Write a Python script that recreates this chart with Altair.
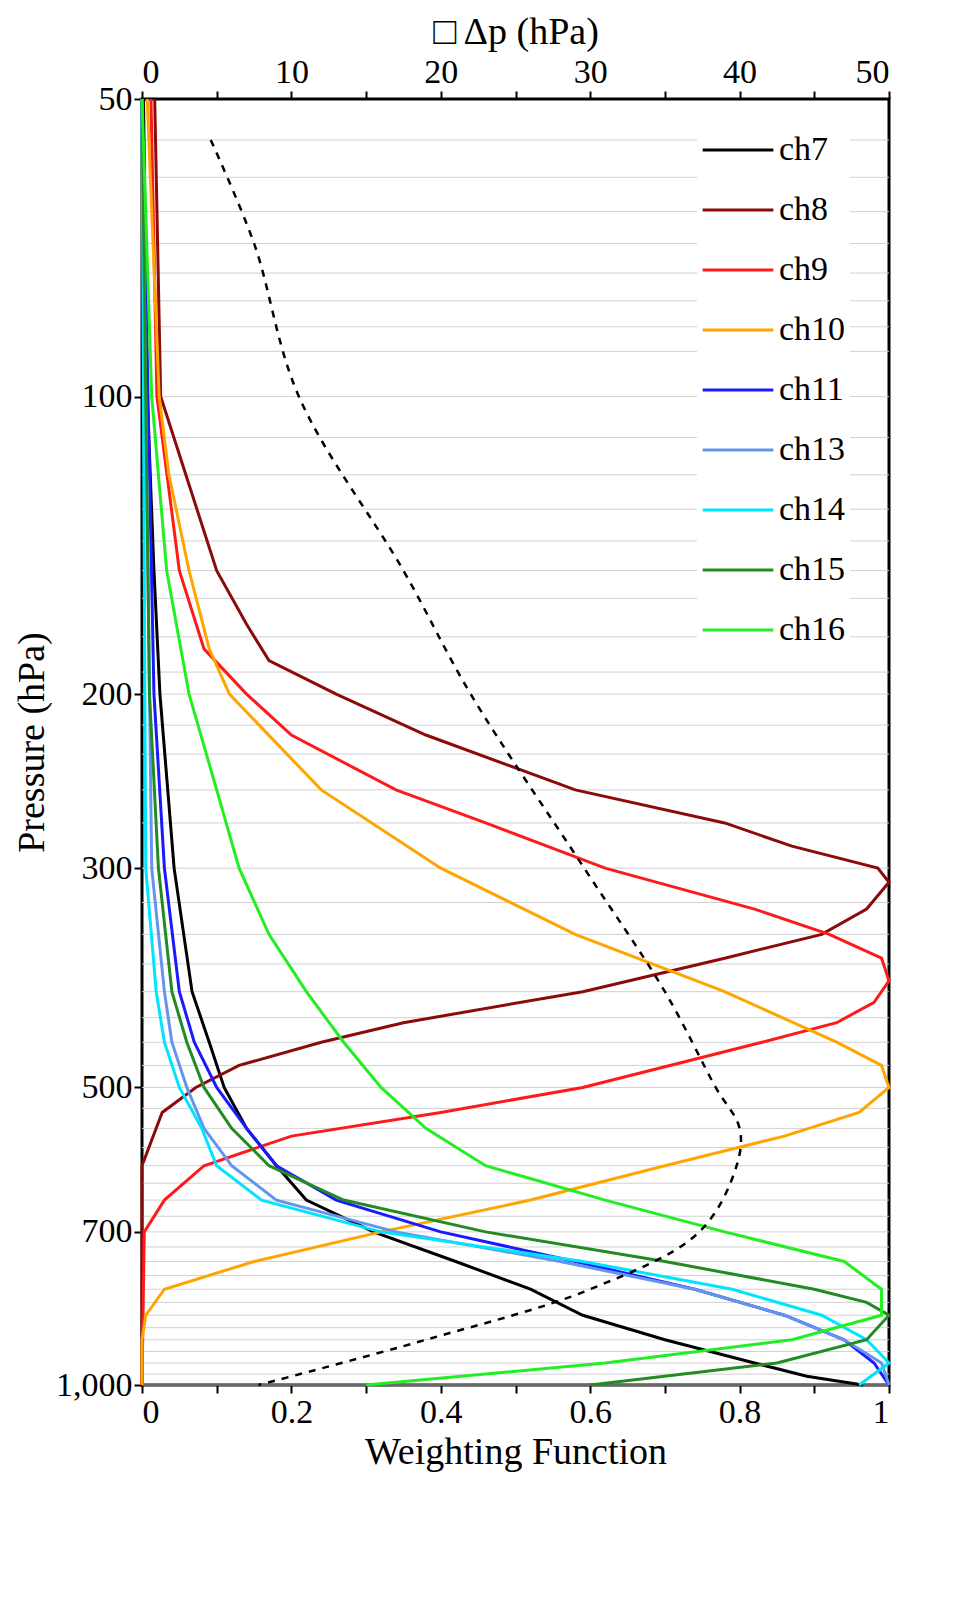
import altair as alt
import pandas as pd

channels = ["ch7","ch8","ch9","ch10","ch11","ch13","ch14","ch15","ch16"]
colors = ["#000000","#8b0a0a","#ff1a1a","#ffa500","#1a1aff","#6495ed","#00e5ff","#228b22","#22ee22"]

wf = {
 "ch7":  ([50,100,150,200,300,400,450,500,550,600,650,700,750,800,850,900,950,980,1000],
          [0.002,0.007,0.016,0.024,0.043,0.067,0.09,0.11,0.14,0.18,0.22,0.31,0.42,0.52,0.59,0.70,0.82,0.89,0.965]),
 "ch8":  ([50,100,150,170,185,200,220,250,270,285,300,310,330,350,370,400,430,450,475,500,530,600,1000],
          [0.017,0.025,0.10,0.14,0.17,0.26,0.38,0.58,0.78,0.87,0.985,1.0,0.97,0.91,0.78,0.59,0.35,0.24,0.13,0.072,0.027,0.0,0.0]),
 "ch9":  ([50,100,150,180,200,220,250,270,300,330,350,370,390,410,430,450,500,530,560,600,650,700,1000],
          [0.012,0.02,0.05,0.083,0.14,0.2,0.34,0.46,0.62,0.82,0.92,0.99,1.0,0.98,0.93,0.83,0.59,0.40,0.2,0.083,0.03,0.003,0.0]),
 "ch10": ([50,100,120,150,180,200,250,300,350,400,450,475,500,530,560,600,650,700,750,800,850,900,1000],
          [0.007,0.023,0.036,0.063,0.09,0.117,0.24,0.40,0.58,0.78,0.93,0.99,1.0,0.96,0.86,0.70,0.52,0.32,0.15,0.03,0.005,0.0,0.0]),
 "ch11": ([50,200,300,400,450,500,550,600,650,700,750,800,850,900,950,1000],
          [0.0,0.016,0.03,0.05,0.07,0.1,0.14,0.18,0.26,0.40,0.58,0.74,0.86,0.94,0.98,1.0]),
 "ch13": ([50,300,400,450,500,550,600,650,700,750,800,850,900,950,1000],
          [0.0,0.013,0.03,0.04,0.06,0.083,0.12,0.18,0.34,0.56,0.74,0.86,0.94,0.99,1.0]),
 "ch14": ([50,300,400,450,500,550,600,650,700,750,800,850,900,950,1000],
          [0.0,0.005,0.019,0.03,0.05,0.08,0.1,0.16,0.32,0.59,0.79,0.91,0.97,1.0,0.96]),
 "ch15": ([50,200,300,400,450,500,550,600,650,700,750,800,825,850,900,950,1000],
          [0.0,0.01,0.022,0.04,0.06,0.083,0.12,0.17,0.27,0.46,0.70,0.90,0.97,1.0,0.97,0.85,0.6]),
 "ch16": ([50,100,150,200,250,300,350,400,450,500,550,600,650,700,750,800,850,900,950,1000],
          [0.0,0.013,0.033,0.063,0.1,0.13,0.17,0.22,0.27,0.32,0.38,0.46,0.62,0.78,0.94,0.99,0.99,0.87,0.62,0.30]),
}

dash_p = [55,70,100,150,200,300,400,500,550,600,700,800,900,1000]
dash_dp = [4.6,7.5,10.5,17.5,22,29.6,35,38.4,40,39.8,37.3,30,19,7.8]

grid_levels = [55,60,65,70,75,80,85,90,100,110,120,130,140,150,160,175,190,200,215,230,250,270,300,
               325,350,375,400,425,450,475,500,525,550,575,600,625,650,675,700,725,750,775,800,
               825,850,875,900,925,950,975,1000]

rows = []
for ch in channels:
    ps, vs = wf[ch]
    for p, v in zip(ps, vs):
        rows.append({"ch": ch, "p": p, "w": v})
df = pd.DataFrame(rows)
dfd = pd.DataFrame({"p": dash_p, "dp": dash_dp})
dfg = pd.DataFrame({"p": grid_levels})

font = "Liberation Serif"
yscale = alt.Scale(type="log", domain=[50, 1000], reverse=True, nice=False)
yaxis = alt.Axis(title="Pressure (hPa)", values=[50,100,200,300,500,700,1000], grid=False,
                 tickSize=8, tickWidth=2, labelFontSize=34, titleFontSize=38,
                 labelFont=font, titleFont=font, titleFontWeight="normal",
                 labelColor="black", titleColor="black", domainColor="black", tickColor="black")

grid = alt.Chart(dfg).mark_rule(color="#d0d0d0", strokeWidth=1).encode(
    y=alt.Y("p:Q", scale=yscale, axis=yaxis))

lines = alt.Chart(df).mark_line(strokeWidth=3).encode(
    x=alt.X("w:Q", scale=alt.Scale(domain=[0, 1], nice=False),
            axis=alt.Axis(title="Weighting Function", values=[i/10 for i in range(11)],
                          labelExpr="round(datum.value*10)%2==0 ? format(datum.value, '~g') : ''",
                          grid=False, tickSize=8, tickWidth=2, labelFontSize=34, titleFontSize=38,
                          labelFont=font, titleFont=font, titleFontWeight="normal",
                          labelColor="black", titleColor="black", domainColor="black", tickColor="black")),
    y=alt.Y("p:Q", scale=yscale, axis=yaxis),
    color=alt.Color("ch:N", scale=alt.Scale(domain=channels, range=colors), sort=channels,
                    legend=alt.Legend(title=None, orient="none", legendX=555, legendY=10,
                                      symbolType="stroke", symbolStrokeWidth=3, symbolSize=5000,
                                      labelFontSize=34, labelFont=font, labelColor="black",
                                      rowPadding=6, fillColor="white", padding=4)),
    order="p:Q")

dash = alt.Chart(dfd).mark_line(strokeDash=[7, 7], color="black", strokeWidth=2.5,
                                interpolate="catmull-rom").encode(
    x=alt.X("dp:Q", scale=alt.Scale(domain=[0, 50], nice=False),
            axis=alt.Axis(orient="top", title="□ Δp   (hPa)", values=list(range(0, 51, 5)),
                          labelExpr="datum.value%10==0 ? datum.value : ''",
                          grid=False, tickSize=8, tickWidth=2, labelFontSize=34, titleFontSize=38,
                          labelFont=font, titleFont=font, titleFontWeight="normal",
                          labelColor="black", titleColor="black", domainColor="black", tickColor="black")),
    y=alt.Y("p:Q", scale=yscale, axis=yaxis),
    order="p:Q")

chart = alt.layer(grid, lines, dash).resolve_scale(x="independent").properties(
    width=747, height=1286, background="white"
).configure_view(stroke="black", strokeWidth=3)

chart.save("out.html", embed_options={"renderer": "svg", "actions": False})
